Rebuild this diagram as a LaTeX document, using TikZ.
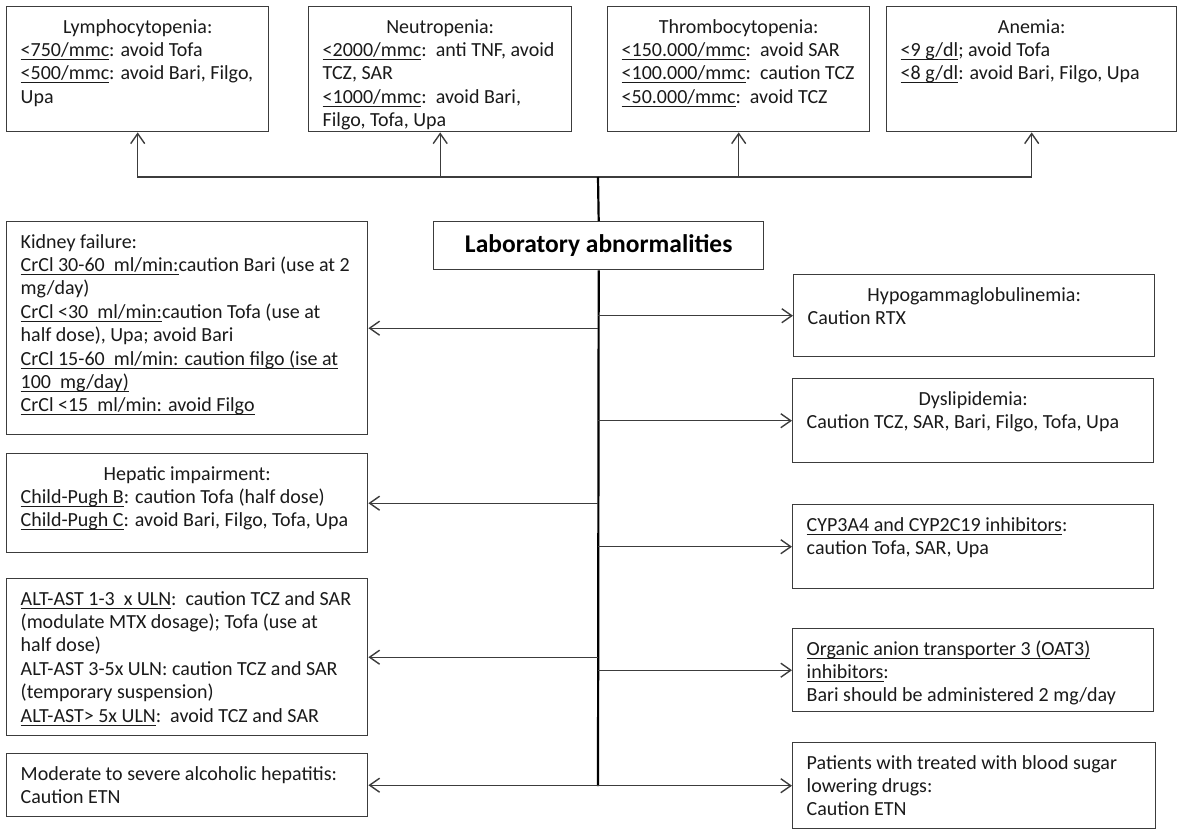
\documentclass[tikz,border=0pt]{standalone}
\usepackage{fontspec}
\setmainfont{Carlito}
\usetikzlibrary{arrows.meta}
\definecolor{ln}{HTML}{3C3C3C}
\definecolor{tx}{HTML}{1A1A1A}
\newcommand\ul[1]{\leavevmode{\setbox0=\hbox{#1}\rlap{\rule[-3.6pt]{\wd0}{1.1pt}}\box0}}
\newcommand\ttl[1]{\makebox[\linewidth][c]{#1}}
% [style] name x1 y1 x2 y2 pad content
\newcommand\bbox[8][]{\node[box,#1] (#2) at (#3,#4) {\parbox[t][\dimexpr #6pt-#4pt\relax][t]{\dimexpr #5pt-#3pt-28pt\relax}{\raggedright\rightskip=-30pt plus 1fil\vspace*{#7pt}\strut #8}};}
\tikzset{
  box/.style={draw=ln, line width=1.4pt, fill=white, text=tx, inner xsep=14pt, inner ysep=0pt,
    anchor=north west, font=\fontsize{20}{23.4}\selectfont},
  arr/.style={draw=ln, line width=1.4pt, -{Straight Barb[length=10pt,width=14pt,line width=1.4pt]}},
  spine/.style={draw=black, line width=2.2pt},
}
\begin{document}
\begin{tikzpicture}[x=1pt,y=-1pt]
\useasboundingbox (0,0) rectangle (1181,839);
% top boxes
\bbox{lymph}{6}{6}{268}{131}{10}{\ttl{Lymphocytopenia:}\\
\ul{<750/mmc}: avoid Tofa\\
\ul{<500/mmc}: avoid Bari, Filgo,\\
Upa}
\bbox{neutro}{308}{6}{571}{131}{10}{\ttl{Neutropenia:}\\
\ul{<2000/mmc}:\ \ anti TNF, avoid\\
TCZ, SAR\\
\ul{<1000/mmc}:\ \ avoid Bari,\\
Filgo, Tofa, Upa}
\bbox{thrombo}{607}{6}{869}{131}{10}{\ttl{Thrombocytopenia:}\\
\ul{<150.000/mmc}:\ \ avoid SAR\\
\ul{<100.000/mmc}:\ \ caution TCZ\\
\ul{<50.000/mmc}:\ \ avoid TCZ}
\bbox{anemia}{886}{6}{1176}{131}{10}{\ttl{Anemia:}\\
\ul{<9 g/dl}; avoid Tofa\\
\ul{<8 g/dl}: avoid Bari, Filgo, Upa}
% center
\node[draw=ln, line width=1.4pt, fill=white, text=black, anchor=north west, minimum width=330pt,
  minimum height=48pt, inner sep=0pt, font=\fontsize{25.5}{28}\selectfont\bfseries] (lab) at (433,221) {Laboratory abnormalities};
% left boxes
\bbox{kidney}{6}{221}{367}{434}{10}{Kidney failure:\\
\ul{CrCl 30-60\ \ ml/min:}caution Bari (use at 2\\
mg/day)\\
\ul{CrCl <30\ \ ml/min:}caution Tofa (use at\\
half dose), Upa; avoid Bari\\
\ul{CrCl 15-60\ \ ml/min: caution filgo (ise at}\\
\ul{100\ \ mg/day)}\\
\ul{CrCl <15\ \ ml/min: avoid Filgo}}
\bbox{hepatic}{6}{453}{367}{552}{10}{\ttl{Hepatic impairment:}\\
\ul{Child-Pugh B}: caution Tofa (half dose)\\
\ul{Child-Pugh C}: avoid Bari, Filgo, Tofa, Upa}
\bbox{alt}{6}{578}{367}{735}{10}{\ul{ALT-AST 1-3\ \ x ULN}:\ \ caution TCZ and SAR\\
(modulate MTX dosage); Tofa (use at\\
half dose)\\
ALT-AST 3-5x ULN: caution TCZ and SAR\\
(temporary suspension)\\
\ul{ALT-AST> 5x ULN}:\ \ avoid TCZ and SAR}
\bbox{moder}{6}{753}{367}{816}{10}{Moderate to severe alcoholic hepatitis:\\
Caution ETN}
% right boxes
\bbox{hypo}{793}{274}{1154}{356}{10}{\ttl{Hypogammaglobulinemia:}\\
Caution RTX}
\bbox{dysl}{792}{378}{1153}{462}{10}{\ttl{Dyslipidemia:}\\
Caution TCZ, SAR, Bari, Filgo, Tofa, Upa}
\bbox{cyp}{792}{504}{1153}{588}{10}{\ul{CYP3A4 and CYP2C19 inhibitors}:\\
caution Tofa, SAR, Upa}
\bbox{oat}{792}{628}{1153}{711}{10}{\ul{Organic anion transporter 3 (OAT3)}\\
\ul{inhibitors}:\\
Bari should be administered 2 mg/day}
\bbox{pat}{792}{742}{1155}{828}{10}{Patients with treated with blood sugar\\
lowering drugs:\\
Caution ETN}
% connectors
\coordinate (hub) at (598,177);
\coordinate (spineEnd) at (598,786);
\draw[arr] (hub) -| (lymph.south);
\draw[arr] (hub) -| (neutro.south);
\draw[arr] (hub) -| (thrombo.south);
\draw[arr] (hub) -| (anemia.south);
\draw[spine] (hub) -- (lab.north);
\draw[spine] (lab.south) -- (spineEnd);
\foreach \b in {kidney,hepatic,alt,moder}{
  \draw[arr] (spineEnd |- \b.east) -- (\b.east);
}
\foreach \b in {hypo,dysl,cyp,oat,pat}{
  \draw[arr] (spineEnd |- \b.west) -- (\b.west);
}
\end{tikzpicture}
\end{document}
